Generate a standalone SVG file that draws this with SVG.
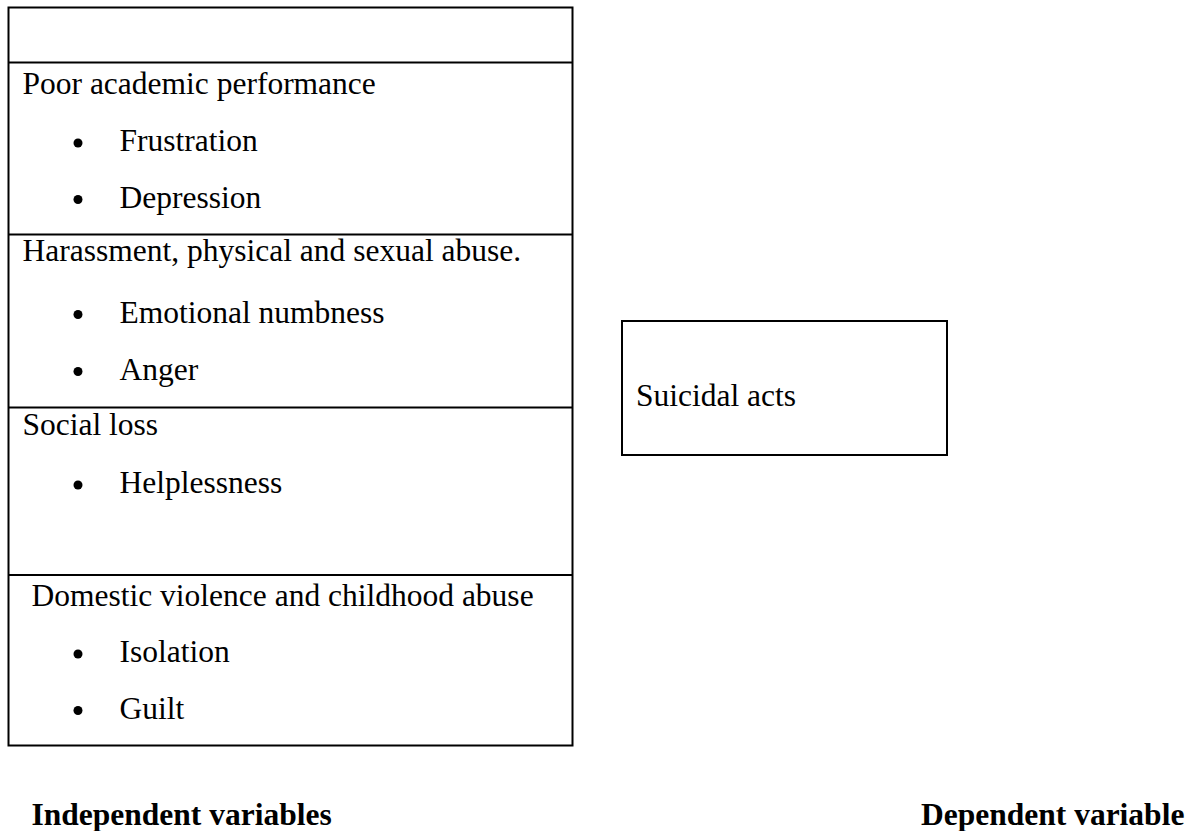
<svg xmlns="http://www.w3.org/2000/svg" width="1191" height="831" viewBox="0 0 1191 831">
<style>
.t{font-family:"Liberation Serif","Times New Roman",serif;font-size:31.5px;fill:#000}
.b{font-weight:bold}
.box{fill:#fff;stroke:#000;stroke-width:2}
.ln{stroke:#000;stroke-width:2}
.dot{fill:#000}
</style>
<rect width="1191" height="831" fill="#fff"/>
<g id="independent">
<rect class="box" x="8.5" y="7.5" width="564" height="738"/>
<line class="ln" x1="8.5" y1="62.5" x2="572.5" y2="62.5"/>
<line class="ln" x1="8.5" y1="234.5" x2="572.5" y2="234.5"/>
<line class="ln" x1="8.5" y1="407.5" x2="572.5" y2="407.5"/>
<line class="ln" x1="8.5" y1="575" x2="572.5" y2="575"/>
<text class="t" x="22.5" y="93.5">Poor academic performance</text>
<circle class="dot" cx="78" cy="143" r="4.5"/>
<text class="t" x="119.5" y="151">Frustration</text>
<circle class="dot" cx="78" cy="199.5" r="4.5"/>
<text class="t" x="119.5" y="207.5">Depression</text>
<text class="t" x="22.5" y="261">Harassment, physical and sexual abuse.</text>
<circle class="dot" cx="78" cy="314.5" r="4.5"/>
<text class="t" x="119.5" y="322.5">Emotional numbness</text>
<circle class="dot" cx="78" cy="371.5" r="4.5"/>
<text class="t" x="119.5" y="379.5">Anger</text>
<text class="t" x="22.5" y="434.5">Social loss</text>
<circle class="dot" cx="78" cy="485" r="4.5"/>
<text class="t" x="119.5" y="493">Helplessness</text>
<text class="t" x="31.5" y="606">Domestic violence and childhood abuse</text>
<circle class="dot" cx="78" cy="654" r="4.5"/>
<text class="t" x="119.5" y="662">Isolation</text>
<circle class="dot" cx="78" cy="710.5" r="4.5"/>
<text class="t" x="119.5" y="718.5">Guilt</text>
</g>
<g id="dependent">
<rect class="box" x="622" y="321" width="325" height="134"/>
<text class="t" x="636" y="406">Suicidal acts</text>
</g>
<g id="labels">
<text class="t b" x="31.5" y="825">Independent variables</text>
<text class="t b" x="921" y="825">Dependent variable</text>
</g>
<g id="connectors"></g>
</svg>
